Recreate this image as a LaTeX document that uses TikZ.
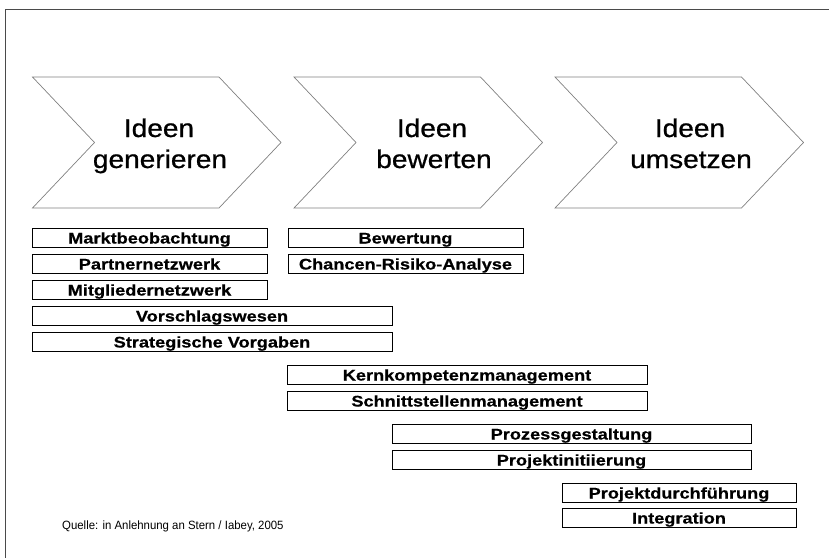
\documentclass[tikz,border=0pt]{standalone}
\usepackage{fontspec}
\setmainfont{Liberation Sans}
\newfontfamily\headfont{Liberation Sans}[FakeStretch=1.1, FakeBold=0.8]
\newfontfamily\barfont{Liberation Sans}[FakeStretch=1.18, FakeBold=0.6]
\newfontfamily\notefont{Liberation Sans}[FakeStretch=0.95]
\definecolor{framegray}{HTML}{4A4A4A}
\definecolor{chevgray}{HTML}{808080}
\tikzset{
  x=1pt, y=-1pt,
  chevron/.style={draw=chevgray, line width=0.7pt, line join=miter},
  headtxt/.style={anchor=base, inner sep=0pt, font=\headfont\fontsize{25.5}{30}\selectfont},
  taskbar/.style={draw=black, line width=0.8pt, rectangle, inner sep=0pt,
    minimum width=#1pt, minimum height=19pt, text height=14pt, text depth=2pt,
    font=\barfont\bfseries\fontsize{15.4}{18}\selectfont},
  notetxt/.style={anchor=base west, inner sep=0pt, font=\notefont\fontsize{12}{14}\selectfont}
}
\newcommand{\chevronat}[1]{%
  \draw[chevron] (#1,77) -- ++(186.5,0) -- ++(62,65.5) -- ++(-62,65.5)
    -- ++(-186.5,0) -- ++(62,-65.5) -- cycle;}
\begin{document}
\begin{tikzpicture}
\useasboundingbox (0,0) rectangle (829,558);
% partial frame along top and left
\draw[framegray, line width=1pt] (829,9) -- (5,9) -- (5,558);

% process chevrons
\chevronat{32.5}
\chevronat{294}
\chevronat{555}
\node[headtxt] (h1a) at (159,137) {Ideen};
\node[headtxt] (h1b) at (160,168) {generieren};
\node[headtxt] (h2a) at (432,137) {Ideen};
\node[headtxt] (h2b) at (434,168) {bewerten};
\node[headtxt] (h3a) at (690,137) {Ideen};
\node[headtxt] (h3b) at (691,168) {umsetzen};

% activity bars
\node[taskbar=235] (mb) at (149.5,237.5) {Marktbeobachtung};
\node[taskbar=235] (pn) at (149.5,263.5) {Partnernetzwerk};
\node[taskbar=235] (mn) at (149.5,289.5) {Mitgliedernetzwerk};
\node[taskbar=360] (vw) at (212,315.5) {Vorschlagswesen};
\node[taskbar=360] (sv) at (212,341.5) {Strategische Vorgaben};
\node[taskbar=235] (bw) at (405.5,237.5) {Bewertung};
\node[taskbar=235] (cr) at (405.5,263.5) {Chancen-Risiko-Analyse};
\node[taskbar=360] (kk) at (467,374.5) {Kernkompetenzmanagement};
\node[taskbar=360] (ss) at (467,400.5) {Schnittstellenmanagement};
\node[taskbar=359] (pg) at (571.5,433.5) {Prozessgestaltung};
\node[taskbar=359] (pi) at (571.5,459.5) {Projektinitiierung};
\node[taskbar=234] (pd) at (679,492.5) {Projektdurchführung};
\node[taskbar=234] (ig) at (679,517.5) {Integration};

% source note
\node[notetxt] (src) at (62,529) {Quelle: in Anlehnung an Stern / Iabey, 2005};
\end{tikzpicture}
\end{document}
